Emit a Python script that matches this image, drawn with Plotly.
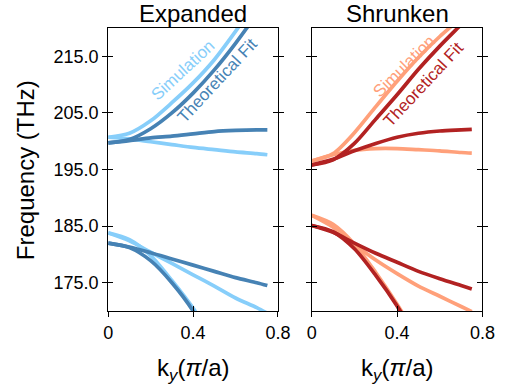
import plotly.graph_objects as go

# ---------------- data ----------------
K = [0, 0.1, 0.2, 0.3, 0.4, 0.5, 0.6, 0.7, 0.75]
K_STEEP = [0, 0.1, 0.2, 0.3, 0.4, 0.5]

# Expanded panel
exp_sim_up_rise = [200.7, 201.4, 203.6, 206.8, 210.3, 214.4, 219.4, 224.8, 227.5]
exp_sim_up_flat = [200.7, 200.4, 199.9, 199.4, 198.9, 198.5, 198.1, 197.8, 197.6]
exp_fit_up_rise = [199.7, 200.3, 202.2, 205.0, 208.5, 212.6, 217.3, 222.5, 225.3]
exp_fit_up_flat = [199.7, 200.1, 200.6, 200.9, 201.3, 201.7, 201.9, 202.0, 202.0]
exp_sim_lo_mod = [183.8, 182.4, 180.4, 178.4, 176.4, 174.4, 172.3, 170.6, 169.6]
exp_sim_lo_steep = [183.8, 182.6, 179.8, 175.4, 170.5, 164.5]
exp_fit_lo_flat = [182.0, 181.3, 180.3, 179.2, 178.1, 177.0, 175.9, 175.0, 174.5]
exp_fit_lo_steep = [182.0, 181.2, 178.9, 175.0, 170.0, 163.0]

# Shrunken panel
shr_sim_up_rise = [196.5, 197.8, 201.5, 206.1, 210.6, 214.8, 218.5, 221.8, 223.5]
shr_sim_up_flat = [196.5, 197.6, 198.4, 198.7, 198.7, 198.5, 198.3, 198.0, 197.9]
shr_fit_up_rise = [195.8, 196.7, 199.6, 203.9, 208.2, 212.7, 216.8, 220.6, 222.5]
shr_fit_up_flat = [195.8, 196.8, 198.3, 199.6, 200.7, 201.4, 201.8, 202.0, 202.1]
shr_sim_lo_mod = [186.9, 184.8, 181.8, 179.0, 176.6, 174.4, 172.6, 170.8, 169.9]
shr_sim_lo_steep = [186.9, 185.3, 181.8, 176.8, 171.2, 165.0]
shr_fit_lo_flat = [185.1, 183.9, 182.0, 180.2, 178.6, 177.0, 175.7, 174.5, 173.9]
shr_fit_lo_steep = [185.1, 184.0, 181.0, 176.3, 170.9, 164.5]

panel_titles = ["Expanded", "Shrunken"]
y_ticks = [175, 185, 195, 205, 215]
x_ticks = [0, 0.4, 0.8]
x_ticktext = ["0", "0.4", "0.8"]

# ---------------- style ----------------
FONT = "Liberation Sans, Arial, sans-serif"
C_EXP_SIM, C_EXP_FIT = "#87CEFA", "#4682B4"
C_SHR_SIM, C_SHR_FIT = "#FFA07A", "#B22222"
LW = 3.7

fig = go.Figure()

def add(xs, ys, color, xa, ya):
    fig.add_trace(go.Scatter(x=xs, y=ys, mode="lines", xaxis=xa, yaxis=ya,
                             line=dict(color=color, width=LW, shape="spline", smoothing=0.8),
                             showlegend=False, hoverinfo="skip"))

# Expanded: simulation first, theory on top
add(K, exp_sim_up_rise, C_EXP_SIM, "x", "y")
add(K, exp_sim_up_flat, C_EXP_SIM, "x", "y")
add(K, exp_sim_lo_mod, C_EXP_SIM, "x", "y")
add(K_STEEP, exp_sim_lo_steep, C_EXP_SIM, "x", "y")
add(K, exp_fit_up_rise, C_EXP_FIT, "x", "y")
add(K, exp_fit_up_flat, C_EXP_FIT, "x", "y")
add(K, exp_fit_lo_flat, C_EXP_FIT, "x", "y")
add(K_STEEP, exp_fit_lo_steep, C_EXP_FIT, "x", "y")

# Shrunken
add(K, shr_sim_up_rise, C_SHR_SIM, "x2", "y2")
add(K, shr_sim_up_flat, C_SHR_SIM, "x2", "y2")
add(K, shr_sim_lo_mod, C_SHR_SIM, "x2", "y2")
add(K_STEEP, shr_sim_lo_steep, C_SHR_SIM, "x2", "y2")
add(K, shr_fit_up_rise, C_SHR_FIT, "x2", "y2")
add(K, shr_fit_up_flat, C_SHR_FIT, "x2", "y2")
add(K, shr_fit_lo_flat, C_SHR_FIT, "x2", "y2")
add(K_STEEP, shr_fit_lo_steep, C_SHR_FIT, "x2", "y2")

W, H = 508, 385
XD1 = [107 / W, 283 / W]
XD2 = [318 / W, 495 / W]
YD = [1 - 311 / H, 1 - 28 / H]
XR = [0, 0.8]
YR = [170, 220]
tickfont = dict(family=FONT, size=18, color="black")

common_x = dict(range=XR, tickvals=x_ticks, ticktext=x_ticktext, showgrid=False,
                zeroline=False, fixedrange=True)
common_y = dict(range=YR, tickvals=y_ticks, tickformat=".1f", showgrid=False,
                zeroline=False, fixedrange=True)

layout_axes = dict(
    xaxis=dict(domain=XD1, anchor="y", showline=True, linecolor="black", linewidth=1,
               mirror=True, ticks="outside", ticklen=5, tickcolor="black",
               tickfont=tickfont, **common_x),
    yaxis=dict(domain=YD, anchor="x", showline=True, linecolor="black", linewidth=1,
               mirror="ticks", ticks="outside", ticklen=5, tickcolor="black",
               tickfont=tickfont, **common_y),
    xaxis2=dict(domain=XD2, anchor="y2", showline=True, linecolor="black", linewidth=1,
                mirror=True, ticks="outside", ticklen=5, tickcolor="black",
                tickfont=tickfont, **common_x),
    yaxis2=dict(domain=YD, anchor="x2", showline=True, linecolor="black", linewidth=1,
                mirror="ticks", ticks="outside", ticklen=5, tickcolor="black",
                showticklabels=False, **common_y),
    # overlay axes providing the inward half of crossing ticks
    xaxis3=dict(domain=XD1, anchor="y", overlaying="x", side="bottom", showline=False,
                ticks="inside", ticklen=5, tickcolor="black", showticklabels=False, **common_x),
    yaxis3=dict(domain=YD, anchor="x", overlaying="y", side="left", showline=False,
                mirror="ticks", ticks="inside", ticklen=5, tickcolor="black",
                showticklabels=False, **common_y),
    xaxis4=dict(domain=XD2, anchor="y2", overlaying="x2", side="bottom", showline=False,
                ticks="inside", ticklen=5, tickcolor="black", showticklabels=False, **common_x),
    yaxis4=dict(domain=YD, anchor="x2", overlaying="y2", side="left", showline=False,
                mirror="ticks", ticks="inside", ticklen=5, tickcolor="black",
                showticklabels=False, **common_y),
)

# dummy traces so the overlay axes are drawn
fig.add_trace(go.Scatter(x=[None], y=[None], xaxis="x3", yaxis="y3", showlegend=False))
fig.add_trace(go.Scatter(x=[None], y=[None], xaxis="x4", yaxis="y4", showlegend=False))

big = dict(family=FONT, size=24, color="black")

def A(text, px, py, font, angle=0):
    return dict(text=text, x=px / W, y=1 - py / H, xref="paper", yref="paper",
                showarrow=False, font=font, textangle=angle,
                xanchor="center", yanchor="middle")

ann = [
    A(panel_titles[0], (XD1[0] + XD1[1]) / 2 * W, 13, big),
    A(panel_titles[1], (XD2[0] + XD2[1]) / 2 * W, 13, big),
    A("Frequency (THz)", 22, 170, big, -90),
    A("k<sub><i>y</i></sub>(<i>π</i>/a)", (XD1[0] + XD1[1]) / 2 * W, 369, big),
    A("k<sub><i>y</i></sub>(<i>π</i>/a)", (XD2[0] + XD2[1]) / 2 * W, 369, big),
    # inline labels
    A("Simulation", 184, 70, dict(family=FONT, size=17, color=C_EXP_SIM), -43),
    A("Theoretical Fit", 220, 80, dict(family=FONT, size=17, color=C_EXP_FIT), -47),
    A("Simulation", 414, 67, dict(family=FONT, size=17, color=C_SHR_SIM), -45),
    A("Theoretical Fit", 434, 85, dict(family=FONT, size=17, color=C_SHR_FIT), -47),
]

fig.update_layout(width=W, height=H, margin=dict(l=0, r=0, t=0, b=0),
                  paper_bgcolor="white", plot_bgcolor="white",
                  font=dict(family=FONT, color="black"),
                  annotations=ann, **layout_axes)

fig.write_html("out.html", config=dict(displayModeBar=False))
